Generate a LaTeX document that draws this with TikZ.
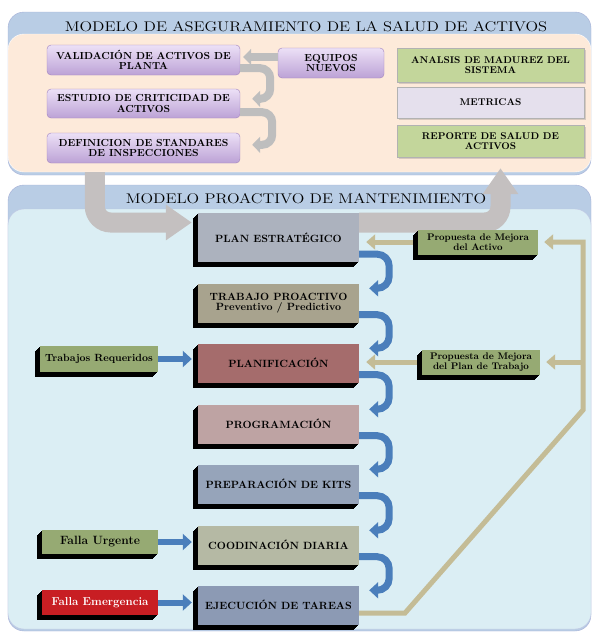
\documentclass[tikz,border=0pt]{standalone}
\usepackage{fontspec}
\usepackage{graphicx}
\usetikzlibrary{arrows.meta,shadows,positioning}

\definecolor{topblue}{RGB}{185,205,229}
\definecolor{peach}{RGB}{253,234,218}
\definecolor{lowblue}{RGB}{219,238,244}
\definecolor{panelrim}{RGB}{165,175,215}
\definecolor{lilactop}{RGB}{236,224,246}
\definecolor{lilacbot}{RGB}{188,162,214}
\definecolor{lilacrim}{RGB}{160,130,190}
\definecolor{mossgreen}{RGB}{195,214,155}
\definecolor{paleviolet}{RGB}{229,224,237}
\definecolor{plancol}{RGB}{172,178,190}
\definecolor{trabcol}{RGB}{168,163,142}
\definecolor{planifcol}{RGB}{165,108,108}
\definecolor{progcol}{RGB}{190,163,163}
\definecolor{prepcol}{RGB}{150,164,186}
\definecolor{coordcol}{RGB}{181,185,164}
\definecolor{ejeccol}{RGB}{140,154,180}
\definecolor{sidegreen}{RGB}{150,170,115}
\definecolor{emergred}{RGB}{200,30,35}
\definecolor{flowblue}{RGB}{74,126,187}
\definecolor{flowtan}{RGB}{196,188,150}
\definecolor{flowgray}{RGB}{190,190,190}
\definecolor{biggray}{RGB}{196,192,192}

\pgfdeclarelayer{back}
\pgfsetlayers{back,main}

\newcommand\heavy[1]{\fontsize{#1}{#1}\selectfont\bfseries\addfontfeature{FakeBold=1}}
\newcommand\widetitle[1]{\scalebox{1.18}[1]{#1}}

\begin{document}
\begin{tikzpicture}[x=1pt,y=-1pt,
  hdr/.style={font=\fontsize{14}{14}\selectfont},
  topbox/.style={draw=lilacrim, rounded corners=4pt, top color=lilactop, bottom color=lilacbot,
    align=center, inner sep=1pt, font=\heavy{10.2}},
  flatbox/.style={draw=gray!60, fill=#1, align=center, inner sep=1pt, minimum width=187pt,
    drop shadow={opacity=.3,shadow xshift=1.5pt,shadow yshift=-1.5pt}, font=\heavy{9.8}},
  depth/.style={general shadow={fill=black, shadow xshift=-#1, shadow yshift=-#1}},
  deep/.style={depth=1pt, depth=2pt, depth=3pt, depth=4pt, depth=5pt},
  stepbox/.style={fill=#1, deep, align=center, inner sep=1pt, minimum width=161pt,
    minimum height=39pt, font=\heavy{10.5}},
  sidebox/.style={fill=#1, deep, align=center, inner sep=1pt, minimum width=118pt,
    minimum height=25pt, font=\heavy{9.6}},
  grayflow/.style={draw=flowgray, line width=8pt, rounded corners=10pt, -{Triangle[length=8pt,width=16pt]}},
  bigflow/.style={draw=biggray, line width=20pt, rounded corners=16pt, -{Triangle[length=26pt,width=34pt]}},
  blueflow/.style={draw=flowblue, line width=7pt, rounded corners=12pt, -{Triangle[length=9pt,width=16pt]}},
  tanflow/.style={draw=flowtan, line width=5pt, -{Triangle[length=9pt,width=15pt]}},
]
\useasboundingbox (0,0) rectangle (597,633);

% panels
\begin{pgfonlayer}{back}
\node[draw=panelrim, fill=topblue, rounded corners=16pt, inner sep=0, minimum width=583pt, minimum height=163pt] (toppanel) at (299.5,93.5) {};
\node[draw=white, fill=peach, rounded corners=16pt, inner sep=0, minimum width=583pt, minimum height=138pt] (peachpanel) at (299.5,103) {};
\node[draw=panelrim, fill=topblue, rounded corners=16pt, inner sep=0, minimum width=583pt, minimum height=446pt] (lowpanel) at (299.5,408) {};
\node[draw=panelrim!70, fill=lowblue, rounded corners=16pt, inner sep=0, minimum width=583pt, minimum height=420pt] (bluepanel) at (299.5,419) {};
\end{pgfonlayer}
\node[hdr] (toptitle) at (306,27) {\widetitle{MODELO DE ASEGURAMIENTO DE LA SALUD DE ACTIVOS}};
\node[hdr] (lowtitle) at (306,199) {\widetitle{MODELO PROACTIVO DE MANTENIMIENTO}};

% aseguramiento
\node[topbox, minimum width=193pt, minimum height=30pt] (valid) at (143.5,60) {VALIDACIÓN DE ACTIVOS DE\\PLANTA};
\node[topbox, minimum width=193pt, minimum height=29pt] (estudio) at (143.5,103.5) {ESTUDIO DE CRITICIDAD DE\\ACTIVOS};
\node[topbox, minimum width=193pt, minimum height=30pt] (defin) at (143.5,148) {DEFINICION DE STANDARES\\DE INSPECCIONES};
\node[topbox, minimum width=106pt, minimum height=30pt] (equipos) at (331,63) {EQUIPOS\\NUEVOS};
\node[flatbox=mossgreen, minimum height=34pt] (madurez) at (490.5,65) {ANALSIS DE MADUREZ DEL\\SISTEMA};
\node[flatbox=paleviolet, minimum height=31pt] (metricas) at (490.5,102.5) {METRICAS};
\node[flatbox=mossgreen, minimum height=32pt] (reporte) at (490.5,141) {REPORTE DE SALUD DE\\ACTIVOS};

\draw[grayflow, shorten >=3pt] ([yshift=6pt]equipos.west) -- ([yshift=6pt]equipos.west -| valid.east);
\draw[grayflow] ([yshift=7pt]valid.south east) -- ++(30,0) |- ([shift={(12pt,-10pt)}]estudio.north east);
\draw[grayflow] ([yshift=6pt]estudio.south east) -- ++(32,0) |- ([shift={(12pt,-12pt)}]defin.north east);

% mantenimiento
\node[stepbox=plancol, minimum height=49pt] (plan) at (278.5,237.5) {PLAN ESTRATÉGICO};
\node[stepbox=trabcol] (proactivo) at (278.5,303) {TRABAJO PROACTIVO\\Preventivo / Predictivo};
\node[stepbox=planifcol] (planif) at (278.5,363) {PLANIFICACIÓN};
\node[stepbox=progcol] (program) at (278.5,424) {PROGRAMACIÓN};
\node[stepbox=prepcol] (kits) at (278.5,484) {PREPARACIÓN DE KITS};
\node[stepbox=coordcol] (coord) at (278.5,545) {COODINACIÓN DIARIA};
\node[stepbox=ejeccol] (ejec) at (278.5,605) {EJECUCIÓN DE TAREAS};

\node[sidebox=sidegreen, minimum height=26pt, font=\heavy{10.4}] (requeridos) at (99,359) {Trabajos Requeridos};
\node[sidebox=sidegreen, minimum width=116pt, minimum height=24pt, font=\heavy{12}] (urgente) at (100,542) {Falla Urgente};
\node[sidebox=emergred, minimum width=116pt, minimum height=25pt, text=white, font=\fontsize{11.5}{12}\selectfont\bfseries] (emergencia) at (100,602.5) {Falla Emergencia};
\node[sidebox=sidegreen, minimum width=120pt] (mejactivo) at (478,242) {Propuesta de Mejora\\del Activo};
\node[sidebox=sidegreen] (mejplan) at (481,362) {Propuesta de Mejora\\del Plan de Trabajo};

\foreach \a/\b in {plan/proactivo, proactivo/planif, planif/program, program/kits, kits/coord, coord/ejec}
  \draw[blueflow] ([yshift=8pt]\a.south east) -- ++(30,0) |- ([shift={(10pt,-5pt)}]\b.north east);

\draw[blueflow, line width=6pt, shorten >=6pt] (requeridos.east) -- (requeridos.east -| planif.west);
\draw[blueflow, line width=6pt, shorten >=6pt] (urgente.east) -- (urgente.east -| coord.west);
\draw[blueflow, line width=6pt, shorten >=6pt] (emergencia.east) -- (emergencia.east -| ejec.west);

\draw[tanflow, shorten >=7pt] ([xshift=-5pt]mejactivo.west) -- (mejactivo.west -| plan.east);
\draw[tanflow, shorten >=7pt] ([xshift=-5pt]mejplan.west) -- (mejplan.west -| planif.east);
\coordinate (bend) at (405,613);
\coordinate (rise) at (583,410);
\draw[tanflow, shorten >=6pt] ([yshift=-8pt]ejec.east) -- (bend) -- (rise) -- (rise |- mejactivo.east) -- (mejactivo.east);
\draw[tanflow, shorten >=6pt] (rise |- mejplan.east) -- (mejplan.east);

% big return arrows
\coordinate (drop) at ([xshift=48pt]defin.south west);
\coordinate (lift) at ([xshift=10pt]reporte.south);
\begin{pgfonlayer}{back}
\draw[bigflow, shorten >=6pt] (drop |- peachpanel.south) |- ([yshift=15pt]plan.west);
\draw[bigflow] ([yshift=15pt]plan.east) -| ([yshift=4pt]lift |- peachpanel.south);
\end{pgfonlayer}
\end{tikzpicture}
\end{document}
